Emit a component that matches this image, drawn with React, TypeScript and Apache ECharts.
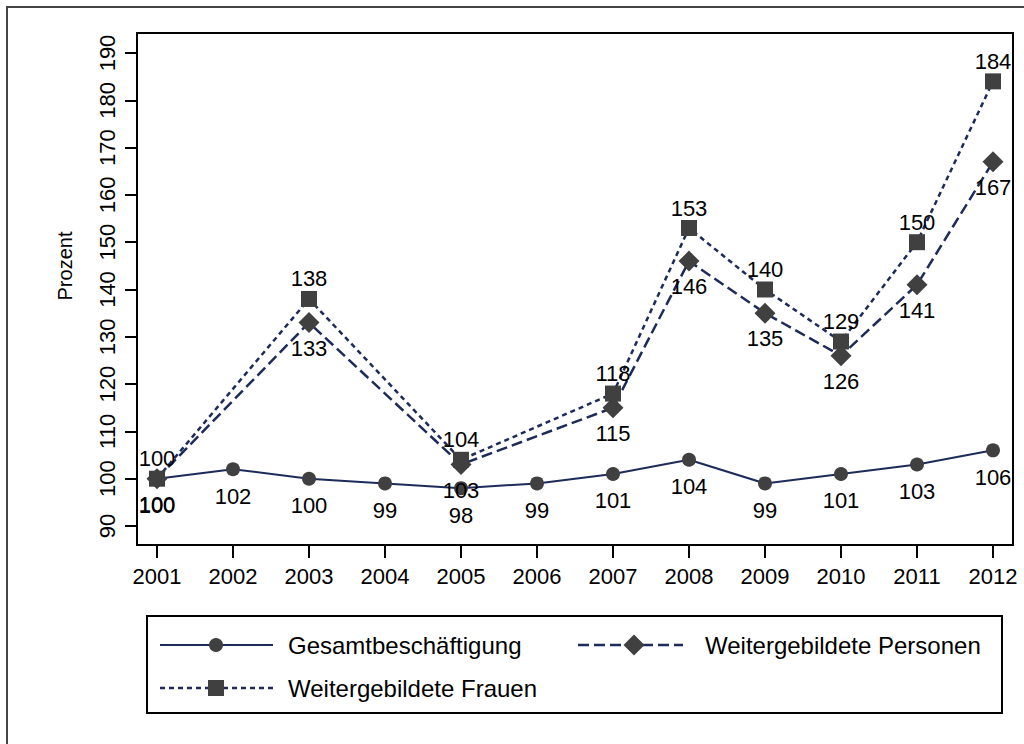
import React, { useEffect, useRef } from "react";
import * as echarts from "echarts";

const years = ["2001", "2002", "2003", "2004", "2005", "2006", "2007", "2008", "2009", "2010", "2011", "2012"];
const gesamt = [100, 102, 100, 99, 98, 99, 101, 104, 99, 101, 103, 106];
const personen = [100, null, 133, null, 103, null, 115, 146, 135, 126, 141, 167];
const frauen = [100, null, 138, null, 104, null, 118, 153, 140, 129, 150, 184];
const seriesNames = ["Gesamtbeschäftigung", "Weitergebildete Personen", "Weitergebildete Frauen"];
const yAxisTitle = "Prozent";

const FONT = "'Liberation Sans', Arial, Helvetica, sans-serif";
const LINE = "#1c2b5a";
const MARK = "#404040";

export default function App() {
  const ref = useRef<HTMLDivElement>(null);
  useEffect(() => {
    document.body.style.margin = "0";
    const chart = echarts.init(ref.current!, undefined, { renderer: "svg" });
    const labelBase = { show: true, color: "#000", fontSize: 22, fontFamily: FONT };
    chart.setOption({
      animation: false,
      backgroundColor: "#fff",
      grid: { left: 157, right: 31, top: 53, bottom: 218, containLabel: false },
      xAxis: {
        type: "category",
        data: years,
        boundaryGap: false,
        offset: 19,
        axisLine: { show: false },
        axisTick: { show: true, length: 13, lineStyle: { color: "#000", width: 2 } },
        axisLabel: { color: "#000", fontSize: 22, fontFamily: FONT, margin: 20, interval: 0 },
        splitLine: { show: false },
      },
      yAxis: {
        type: "value",
        min: 90,
        max: 190,
        interval: 10,
        offset: 20,
        axisLine: { show: false },
        axisTick: { show: true, length: 12, lineStyle: { color: "#000", width: 2 } },
        axisLabel: { color: "#000", fontSize: 22, fontFamily: FONT, rotate: 90, margin: 19 },
        splitLine: { show: false },
      },
      series: [
        {
          name: seriesNames[0],
          type: "line",
          data: gesamt,
          symbol: "circle",
          symbolSize: 14,
          lineStyle: { color: LINE, width: 2, type: "solid" },
          itemStyle: { color: MARK },
          label: { ...labelBase, position: "bottom", distance: 9 },
          z: 3,
        },
        {
          name: seriesNames[1],
          type: "line",
          data: personen,
          connectNulls: true,
          symbol: "diamond",
          symbolSize: 21,
          lineStyle: { color: LINE, width: 2.5, type: [11, 5] },
          itemStyle: { color: MARK },
          label: { ...labelBase, position: "bottom", distance: 4 },
          z: 4,
        },
        {
          name: seriesNames[2],
          type: "line",
          data: frauen,
          connectNulls: true,
          symbol: "rect",
          symbolSize: 16,
          lineStyle: { color: LINE, width: 2.5, type: [5, 4] },
          itemStyle: { color: MARK },
          label: { ...labelBase, position: "top", distance: 1 },
          z: 5,
        },
      ],
      graphic: [
        { type: "rect", shape: { x: 7, y: 7, width: 1040, height: 760 }, style: { fill: "none", stroke: "#444", lineWidth: 2 }, silent: true },
        { type: "rect", shape: { x: 137, y: 33, width: 876, height: 512 }, style: { fill: "none", stroke: "#000", lineWidth: 2 }, silent: true, z: 10 },
        {
          type: "text",
          x: 65,
          y: 266,
          rotation: Math.PI / 2,
          style: { text: yAxisTitle, fontSize: 20, fontFamily: FONT, fill: "#000", textAlign: "center", textVerticalAlign: "middle" },
        },
        { type: "rect", shape: { x: 147, y: 616, width: 855, height: 97 }, style: { fill: "#fff", stroke: "#000", lineWidth: 2 } },
        { type: "line", shape: { x1: 160, y1: 645, x2: 273, y2: 645 }, style: { stroke: LINE, lineWidth: 2 }, z: 11 },
        { type: "circle", shape: { cx: 216, cy: 645, r: 7 }, style: { fill: MARK }, z: 12 },
        { type: "text", x: 288, y: 645, style: { text: seriesNames[0], fontSize: 24, fontFamily: FONT, fill: "#000", textVerticalAlign: "middle" }, z: 12 },
        { type: "line", shape: { x1: 578, y1: 645, x2: 683, y2: 645 }, style: { stroke: LINE, lineWidth: 2.5, lineDash: [11, 5] }, z: 11 },
        { type: "polygon", shape: { points: [[634, 634.5], [644.5, 645], [634, 655.5], [623.5, 645]] }, style: { fill: MARK }, z: 12 },
        { type: "text", x: 705, y: 645, style: { text: seriesNames[1], fontSize: 24, fontFamily: FONT, fill: "#000", textVerticalAlign: "middle" }, z: 12 },
        { type: "line", shape: { x1: 160, y1: 688, x2: 273, y2: 688 }, style: { stroke: LINE, lineWidth: 2.5, lineDash: [5, 4] }, z: 11 },
        { type: "rect", shape: { x: 208, y: 680, width: 16, height: 16 }, style: { fill: MARK }, z: 12 },
        { type: "text", x: 288, y: 688, style: { text: seriesNames[2], fontSize: 24, fontFamily: FONT, fill: "#000", textVerticalAlign: "middle" }, z: 12 },
      ],
    });
    return () => chart.dispose();
  }, []);
  return <div ref={ref} style={{ width: 1024, height: 744 }} />;
}
